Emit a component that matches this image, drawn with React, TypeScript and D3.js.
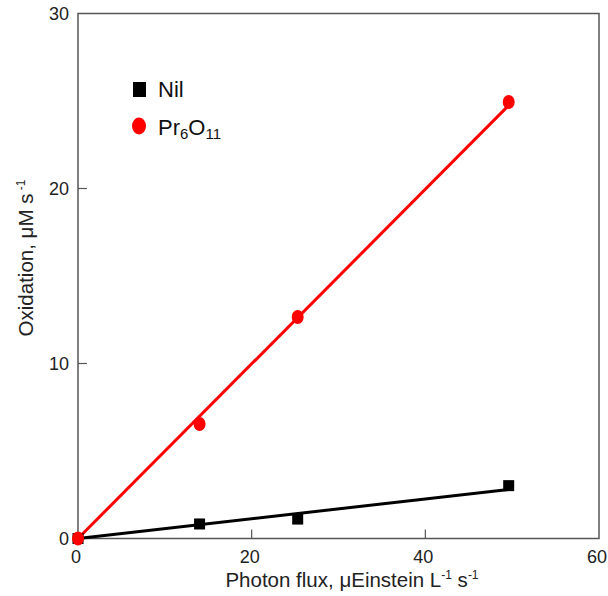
import React from "react";
import * as d3 from "d3";

const nilX = [0, 14, 25.3, 49.6];
const nilY = [0, 0.83, 1.11, 3.02];
const prX = [0, 14, 25.3, 49.6];
const prY = [0, 6.54, 12.66, 24.94];
const fitX = [0, 49.6];
const nilFitY = [0, 2.8];
const prFitY = [0, 24.75];
const xTicks = [0, 20, 40, 60];
const yTicks = [0, 10, 20, 30];

const W = 608;
const H = 596;
const left = 78;
const right = 599;
const top = 13.5;
const bottom = 538.5;

export default function App() {
  const x = d3.scaleLinear().domain([0, 60]).range([left, right]);
  const y = d3.scaleLinear().domain([0, 30]).range([bottom, top]);
  const line = d3
    .line<[number, number]>()
    .x((d) => x(d[0]))
    .y((d) => y(d[1]));
  const nilFit = fitX.map((v, i) => [v, nilFitY[i]] as [number, number]);
  const prFit = fitX.map((v, i) => [v, prFitY[i]] as [number, number]);
  const font = "Liberation Sans, Arial, sans-serif";
  const axisColor = "#555";
  const textColor = "#222";
  return (
    <svg
      width={W}
      height={H}
      style={{ position: "absolute", left: 0, top: 0, background: "#fff" }}
      fontFamily={font}
    >
      {/* frame */}
      <rect
        x={left}
        y={top}
        width={right - left}
        height={bottom - top}
        fill="none"
        stroke={axisColor}
        strokeWidth={1.5}
      />
      {/* ticks */}
      {xTicks.slice(1, 3).map((t) => (
        <line key={"xt" + t} x1={x(t)} x2={x(t)} y1={bottom} y2={bottom - 9} stroke={axisColor} strokeWidth={1.2} />
      ))}
      {yTicks.slice(1, 3).map((t) => (
        <line key={"yt" + t} x1={left} x2={left + 9} y1={y(t)} y2={y(t)} stroke={axisColor} strokeWidth={1.2} />
      ))}
      {xTicks.map((t) => (
        <text key={"xl" + t} x={x(t) - 2} y={bottom + 24} textAnchor="middle" fontSize={18} fill={textColor}>
          {t}
        </text>
      ))}
      {yTicks.map((t) => (
        <text key={"yl" + t} x={left - 9} y={y(t) + 6.5} textAnchor="end" fontSize={18} fill={textColor}>
          {t}
        </text>
      ))}
      {/* axis labels */}
      <text x={352} y={587} textAnchor="middle" fontSize={20.5} fill={textColor}>
        Photon flux, μEinstein L
        <tspan dy={-8} fontSize={12}>-1</tspan>
        <tspan dy={8}> s</tspan>
        <tspan dy={-8} fontSize={12}>-1</tspan>
      </text>
      <text
        transform={`translate(33, 258) rotate(-90)`}
        textAnchor="middle"
        fontSize={20.5}
        fill={textColor}
      >
        Oxidation, μM s
        <tspan dy={-8} fontSize={12}> -1</tspan>
      </text>
      {/* fit lines */}
      <path d={line(nilFit) || ""} fill="none" stroke="#000" strokeWidth={3} />
      <path d={line(prFit) || ""} fill="none" stroke="#ff0000" strokeWidth={3} />
      {/* markers */}
      {nilX.map((v, i) => (
        <rect key={"n" + i} x={x(v) - 5.5} y={y(nilY[i]) - 5.5} width={11} height={11} fill="#000" />
      ))}
      {prX.map((v, i) => (
        <ellipse key={"p" + i} cx={x(v)} cy={y(prY[i])} rx={6} ry={7} fill="#ff0000" />
      ))}
      {/* legend */}
      <rect x={133} y={82} width={13} height={15} fill="#000" />
      <text x={158} y={97} fontSize={22} fill="#111">Nil</text>
      <ellipse cx={139} cy={126} rx={7} ry={8.5} fill="#ff0000" />
      <text x={158} y={135} fontSize={22} fill="#111">
        Pr
        <tspan dy={4} fontSize={15}>6</tspan>
        <tspan dy={-4}>O</tspan>
        <tspan dy={4} fontSize={15}>11</tspan>
      </text>
    </svg>
  );
}
